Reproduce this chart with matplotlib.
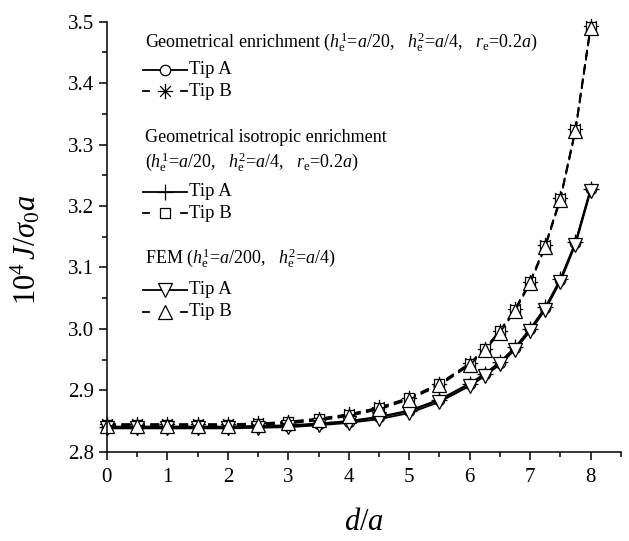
import matplotlib
matplotlib.use("Agg")
import matplotlib.pyplot as plt
from matplotlib.lines import Line2D
from matplotlib.path import Path

plt.rcParams["font.family"] = ["Liberation Serif", "DejaVu Serif"]
plt.rcParams["mathtext.fontset"] = "custom"
plt.rcParams["mathtext.rm"] = "Liberation Serif"
plt.rcParams["mathtext.it"] = "Liberation Serif:italic"

# d/a positions
d_a = [0, 0.5, 1, 1.5, 2, 2.5, 3, 3.5, 4, 4.5, 5, 5.5, 6,
       6.25, 6.5, 6.75, 7, 7.25, 7.5, 7.75, 8]

# geometrical enrichment
geo_A = [2.840, 2.840, 2.840, 2.840, 2.840, 2.841, 2.842, 2.845, 2.849, 2.856,
         2.866, 2.884, 2.910, 2.926, 2.945, 2.969, 2.999, 3.034, 3.080, 3.140, 3.227]
geo_B = [2.845, 2.845, 2.845, 2.845, 2.845, 2.846, 2.849, 2.854, 2.861, 2.872,
         2.888, 2.911, 2.944, 2.968, 2.997, 3.032, 3.077, 3.136, 3.213, 3.325, 3.493]

# geometrical isotropic enrichment
iso_A = [2.841, 2.841, 2.841, 2.841, 2.841, 2.842, 2.843, 2.846, 2.850, 2.857,
         2.867, 2.885, 2.911, 2.927, 2.946, 2.970, 3.000, 3.035, 3.081, 3.141, 3.228]
iso_B = [2.844, 2.844, 2.844, 2.844, 2.844, 2.845, 2.848, 2.853, 2.860, 2.871,
         2.887, 2.910, 2.943, 2.967, 2.996, 3.031, 3.076, 3.135, 3.212, 3.324, 3.491]

# FEM
fem_A = [2.838, 2.838, 2.838, 2.838, 2.838, 2.839, 2.840, 2.843, 2.847, 2.853,
         2.863, 2.881, 2.907, 2.923, 2.942, 2.966, 2.996, 3.031, 3.077, 3.137, 3.224]
fem_B = [2.842, 2.842, 2.842, 2.842, 2.842, 2.843, 2.846, 2.851, 2.858, 2.869,
         2.885, 2.908, 2.941, 2.965, 2.994, 3.029, 3.074, 3.133, 3.210, 3.322, 3.489]

# asterisk marker: 8 spokes
star = Path(
    [(-1, 0), (1, 0), (0, -1), (0, 1), (-0.7, -0.7), (0.7, 0.7), (-0.7, 0.7), (0.7, -0.7)],
    [Path.MOVETO, Path.LINETO] * 4,
)

series = [
    (geo_A, "-", "o", 7.5),
    (geo_B, "--", star, 11),
    (iso_A, "-", "+", 12),
    (iso_B, "--", "s", 6.5),
    (fem_A, "-", "v", 9.5),
    (fem_B, "--", "^", 9.5),
]

fig = plt.figure(figsize=(6.29, 5.41), dpi=100)
ax = fig.add_axes([0.170, 0.165, 0.817, 0.795])

for vals, ls, mk, ms in series:
    ax.plot(d_a, vals, color="black", linestyle=ls, linewidth=1.3,
            dashes=(5, 3) if ls == "--" else (None, None),
            marker=mk, markersize=ms, markerfacecolor="white",
            markeredgecolor="black", markeredgewidth=0.9, clip_on=False)

ax.set_xlim(0, 8.5)
ax.set_ylim(2.8, 3.5)
ax.set_xticks(range(0, 9))
ax.set_xticks([i + 0.5 for i in range(9)], minor=True)
ax.set_yticks([2.8, 2.9, 3.0, 3.1, 3.2, 3.3, 3.4, 3.5])
ax.set_yticklabels(["2.8", "2.9", "3.0", "3.1", "3.2", "3.3", "3.4", "3.5"])
ax.set_yticks([2.85, 2.95, 3.05, 3.15, 3.25, 3.35, 3.45], minor=True)
ax.tick_params(which="major", direction="out", length=6, width=1.1, labelsize=15)
ax.tick_params(which="minor", direction="out", length=3.5, width=1.1)
ax.tick_params(axis="x", pad=6)
for side in ["top", "right"]:
    ax.spines[side].set_visible(False)
for side in ["left", "bottom"]:
    ax.spines[side].set_linewidth(1.1)

ax.set_xlabel("$d/a$", fontsize=22)
ax.xaxis.set_label_coords(0.5, -0.13)
ax.set_ylabel(r"$10^4\,J/\sigma_0a$", fontsize=22)
ax.yaxis.set_label_coords(-0.125, 0.47)

# hand-made legend, positions in pixels of the 629x541 figure
W, H = 629.0, 541.0


def fx(px):
    return px / W


def fy(py):
    return 1 - py / H


def entry(py, ls, mk, ms, label):
    if ls == "-":
        fig.add_artist(Line2D([fx(143), fx(187)], [fy(py), fy(py)], transform=fig.transFigure,
                              color="black", linewidth=1.3))
    else:
        for a, b in [(143, 149), (181, 187)]:
            fig.add_artist(Line2D([fx(a), fx(b)], [fy(py), fy(py)], transform=fig.transFigure,
                                  color="black", linewidth=1.3))
    fig.add_artist(Line2D([fx(165)], [fy(py)], transform=fig.transFigure, marker=mk,
                          markersize=ms, markerfacecolor="white", markeredgecolor="black",
                          markeredgewidth=0.9, linestyle="none"))
    fig.text(fx(189), fy(py), label, fontsize=13.5, va="center", ha="left")


hdr = dict(fontsize=13, va="center", ha="left")
fig.text(fx(145), fy(42),
         r"Geometrical enrichment ($h_{\rm e}^{1}$=$a$/20,   $h_{\rm e}^{2}$=$a$/4,   $r_{\rm e}$=0.2$a$)",
         **hdr)
entry(70, "-", "o", 7.5, "Tip A")
entry(91, "--", star, 11, "Tip B")

fig.text(fx(145), fy(138), "Geometrical isotropic enrichment", **hdr)
fig.text(fx(145), fy(162),
         r"($h_{\rm e}^{1}$=$a$/20,   $h_{\rm e}^{2}$=$a$/4,   $r_{\rm e}$=0.2$a$)", **hdr)
entry(192, "-", "+", 12, "Tip A")
entry(213, "--", "s", 6.5, "Tip B")

fig.text(fx(145), fy(258), r"FEM ($h_{\rm e}^{1}$=$a$/200,   $h_{\rm e}^{2}$=$a$/4)", **hdr)
entry(290, "-", "v", 9.5, "Tip A")
entry(312, "--", "^", 9.5, "Tip B")

fig.savefig("out.png", dpi=100)
